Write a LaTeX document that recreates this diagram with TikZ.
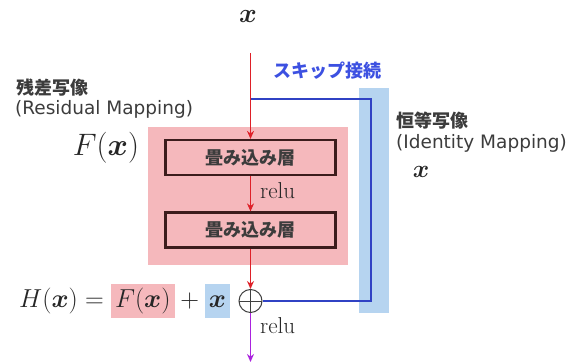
\RequirePackage{fix-cm}
\documentclass[tikz,border=0pt]{standalone}
\usepackage{amsmath,bm}
\usepackage{fontspec}
\newfontfamily\jp{Noto Sans CJK JP}
\newfontfamily\dv{DejaVu Sans}
\usetikzlibrary{arrows.meta}
\definecolor{pinkc}{RGB}{245,184,188}
\definecolor{bluec}{RGB}{182,212,240}
\definecolor{redc}{RGB}{222,32,40}
\definecolor{skipc}{RGB}{48,66,196}
\definecolor{skiptxt}{RGB}{60,80,225}
\definecolor{purpc}{RGB}{170,34,222}
\definecolor{boxc}{RGB}{60,28,28}
\definecolor{txtc}{RGB}{60,60,60}
\newcommand\fsz[1]{\fontsize{#1}{#1}\selectfont}
\tikzset{
  layer/.style={draw=boxc, line width=2.2pt, minimum width=170pt, minimum height=35pt,
    inner sep=0pt, font=\jp\bfseries\fsz{18}, text=txtc},
  redarr/.style={draw=redc, line width=1.6pt, -{Stealth[length=8pt,width=7pt]}},
  purparr/.style={draw=purpc, line width=1.6pt, -{Stealth[length=8pt,width=7pt]}},
  skipline/.style={draw=skipc, line width=2pt},
  jptxt/.style={font=\jp\bfseries\fsz{18}, text=txtc, inner sep=0pt},
  entxt/.style={font=\dv\fsz{18.5}, text=txtc, inner sep=0pt},
  mathtxt/.style={inner sep=0pt, text=black!85},
  oplus/.style={circle, draw=black!75, line width=1pt, minimum size=23pt, inner sep=0pt,
    path picture={\draw[black!75, line width=1pt]
      (path picture bounding box.north) -- (path picture bounding box.south)
      (path picture bounding box.west) -- (path picture bounding box.east);}},
}
\begin{document}
\begin{tikzpicture}[x=1pt,y=-1pt]
\useasboundingbox (0,0) rectangle (577,363);
% background regions
\fill[pinkc] (148,127) rectangle (348,265);
\fill[bluec] (359,88) rectangle (389,313);
% nodes
\node[mathtxt, font=\fsz{27}] (xin) at (248,17) {$\bm{x}$};
\coordinate (start) at (250.5,53);
\coordinate (split) at (250.5,99.5);
\node[layer] (conv1) at (250.5,157.5) {畳み込み層};
\node[layer] (conv2) at (250.5,230) {畳み込み層};
\node[oplus] (add) at (250.5,301) {};
\coordinate (out) at (250.5,362);
\coordinate (sk1) at (370.5,99.5);
\coordinate (sk2) at (370.5,301);
% connectors
\draw[draw=redc, line width=1.6pt] (start) -- (split);
\draw[redarr] (split) -- (conv1.north);
\draw[redarr] (conv1.south) -- (conv2.north);
\draw[redarr] (conv2.south) -- (add.north);
\draw[purparr] (add.south) -- (out);
\draw[skipline] (split) -- (sk1) -- (sk2) -- (add.east);
% labels
\node[font=\jp\bfseries\fsz{18}, text=skiptxt, inner sep=0pt] (skiplbl) at (327,71) {スキップ接続};
\node[jptxt, anchor=west] (reslbl) at (16,88) {残差写像};
\node[entxt, anchor=west] (resen) at (15,109) {(Residual Mapping)};
\node[jptxt, anchor=west] (idlbl) at (396,121) {恒等写像};
\node[entxt, anchor=west] (iden) at (396,143) {(Identity Mapping)};
\node[mathtxt, font=\fsz{25}] (xid) at (421,172) {$\bm{x}$};
\node[mathtxt, font=\fsz{31}] (flbl) at (106,148) {$F(\bm{x})$};
\node[mathtxt, font=\fsz{23}, anchor=west] (relu1) at (260,191) {relu};
\node[mathtxt, font=\fsz{23}, anchor=west] (relu2) at (260,326) {relu};
\node[mathtxt, font=\fsz{26}, anchor=west] (eq) at (19,301)
  {\setlength{\fboxsep}{4pt}$H(\bm{x}) = \colorbox{pinkc}{$F(\bm{x})$} + \colorbox{bluec}{$\vphantom{F(}\bm{x}$}$};
\end{tikzpicture}
\end{document}
